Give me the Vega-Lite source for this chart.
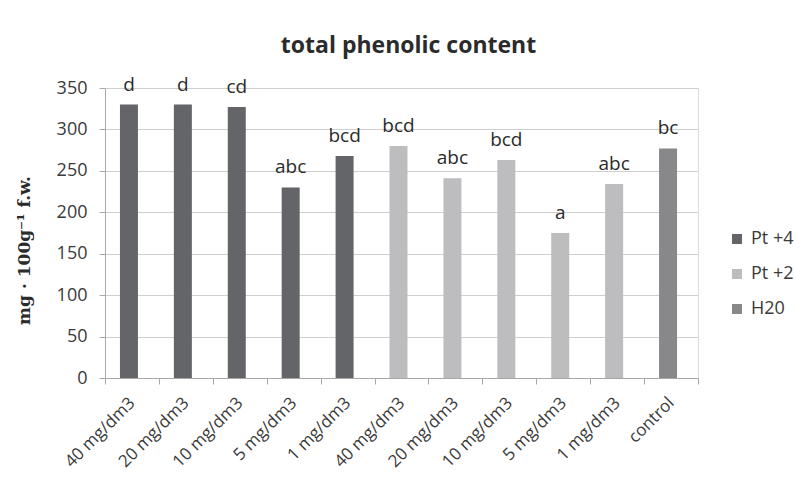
{
  "$schema": "https://vega.github.io/schema/vega-lite/v6.json",
  "autosize": "none",
  "width": 593,
  "height": 290,
  "padding": {"left": 105, "top": 88, "right": 97, "bottom": 104},
  "background": "white",
  "title": {
    "text": "total phenolic content",
    "font": "Open Sans",
    "fontSize": 23,
    "fontWeight": "bold",
    "color": "#2b2b2b",
    "anchor": "middle",
    "dx": 7,
    "offset": 18
  },
  "data": {
    "values": [
      {"label": "40 mg/dm3", "key": "a1", "group": "Pt +4", "value": 330, "letters": "d"},
      {"label": "20 mg/dm3", "key": "a2", "group": "Pt +4", "value": 330, "letters": "d"},
      {"label": "10 mg/dm3", "key": "a3", "group": "Pt +4", "value": 327, "letters": "cd"},
      {"label": "5 mg/dm3", "key": "a4", "group": "Pt +4", "value": 230, "letters": "abc"},
      {"label": "1 mg/dm3", "key": "a5", "group": "Pt +4", "value": 268, "letters": "bcd"},
      {"label": "40 mg/dm3", "key": "b1", "group": "Pt +2", "value": 280, "letters": "bcd"},
      {"label": "20 mg/dm3", "key": "b2", "group": "Pt +2", "value": 241, "letters": "abc"},
      {"label": "10 mg/dm3", "key": "b3", "group": "Pt +2", "value": 263, "letters": "bcd"},
      {"label": "5 mg/dm3", "key": "b4", "group": "Pt +2", "value": 175, "letters": "a"},
      {"label": "1 mg/dm3", "key": "b5", "group": "Pt +2", "value": 234, "letters": "abc"},
      {"label": "control", "key": "c1", "group": "H20", "value": 277, "letters": "bc"}
    ]
  },
  "encoding": {
    "x": {
      "field": "key",
      "type": "nominal",
      "sort": null,
      "scale": {"paddingInner": 0, "paddingOuter": 0},
      "axis": {
        "title": null,
        "labelExpr": "{'a1':'40 mg/dm3','a2':'20 mg/dm3','a3':'10 mg/dm3','a4':'5 mg/dm3','a5':'1 mg/dm3','b1':'40 mg/dm3','b2':'20 mg/dm3','b3':'10 mg/dm3','b4':'5 mg/dm3','b5':'1 mg/dm3','c1':'control'}[datum.value]",
        "labelAngle": -45,
        "labelAlign": "right",
        "labelBaseline": "middle",
        "labelPadding": 16,
        "labelFont": "Open Sans",
        "labelFontSize": 17,
        "labelColor": "#3a3a3a",
        "bandPosition": 0,
        "tickBand": "extent",
        "domainColor": "#a8a8a8",
        "tickColor": "#a8a8a8",
        "tickSize": 6,
        "grid": false
      }
    },
    "y": {
      "field": "value",
      "type": "quantitative",
      "scale": {"domain": [0, 350], "nice": false},
      "axis": {
        "title": "mg · 100g⁻¹ f.w.",
        "titleFont": "DejaVu Serif",
        "titleFontSize": 17,
        "titleFontWeight": "bold",
        "titleColor": "#2b2b2b",
        "titleAnchor": "middle",
        "titleY": 162,
        "titleX": -72,
        "values": [0, 50, 100, 150, 200, 250, 300, 350],
        "labelFont": "Open Sans",
        "labelFontSize": 18,
        "labelColor": "#3a3a3a",
        "labelPadding": 12,
        "tickColor": "#a8a8a8",
        "tickSize": 6,
        "domainColor": "#a8a8a8",
        "gridColor": "#cfcfcf",
        "gridWidth": 1.2
      }
    }
  },
  "layer": [
    {
      "mark": {"type": "bar", "size": 18, "xOffset": -3},
      "encoding": {
        "color": {
          "field": "group",
          "type": "nominal",
          "sort": ["Pt +4", "Pt +2", "H20"],
          "scale": {"domain": ["Pt +4", "Pt +2", "H20"], "range": ["#646569", "#bdbdbf", "#88888b"]},
          "legend": {
            "title": null,
            "orient": "none",
            "legendX": 623,
            "legendY": 142,
            "symbolType": "square",
            "symbolSize": 100,
            "symbolStrokeWidth": 0,
            "labelFont": "Open Sans",
            "labelFontSize": 18,
            "labelColor": "#3a3a3a",
            "rowPadding": 17,
            "labelOffset": 5
          }
        }
      }
    },
    {
      "mark": {"type": "text", "baseline": "alphabetic", "dy": -14, "xOffset": -3, "font": "Open Sans", "fontSize": 19, "color": "#2b2b2b"},
      "encoding": {"text": {"field": "letters"}}
    }
  ]
}
